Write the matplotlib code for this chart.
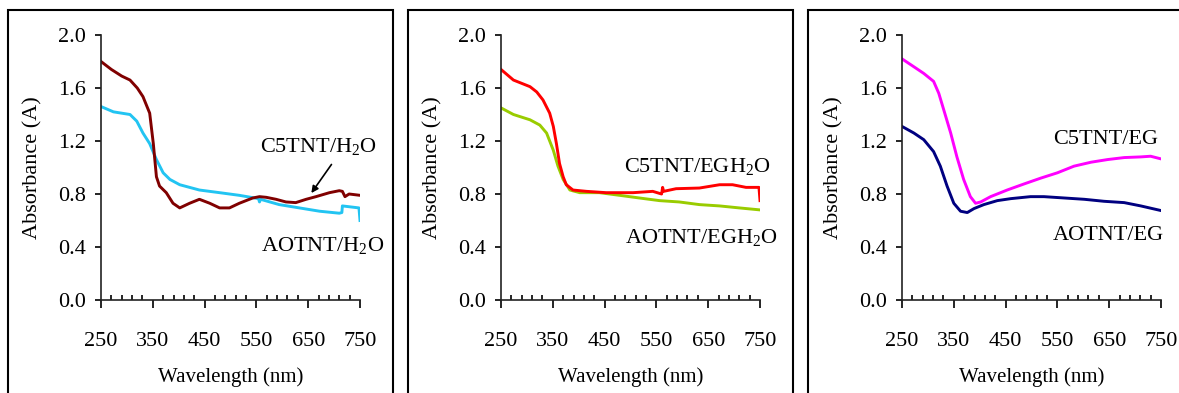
import numpy as np
import matplotlib
matplotlib.use("Agg")
import matplotlib.pyplot as plt
from matplotlib.patches import Rectangle

plt.rcParams['font.family'] = ['Liberation Serif', 'DejaVu Serif']
plt.rcParams['mathtext.fontset'] = 'custom'
plt.rcParams['mathtext.rm'] = 'Liberation Serif'
plt.rcParams['mathtext.it'] = 'Liberation Serif:italic'

# Panel 1: H2O
wl_c5_h2o = [250, 270, 290, 306, 320, 331, 344, 351, 357, 363, 376, 389, 402, 421, 440, 460, 479, 498,
             517, 543, 556, 569, 588, 607, 626, 646, 665, 691, 710, 716, 721, 729, 750]
ab_c5_h2o = [1.80, 1.74, 1.69, 1.66, 1.60, 1.535, 1.41, 1.18, 0.93, 0.86, 0.81, 0.73, 0.695, 0.73, 0.76, 0.73, 0.695, 0.695,
             0.73, 0.77, 0.78, 0.775, 0.76, 0.74, 0.735, 0.76, 0.78, 0.81, 0.825, 0.82, 0.78, 0.80, 0.79]
wl_ao_h2o = [250, 274, 306, 319, 331, 344, 357, 370, 383, 402, 440, 479, 517, 554, 556, 558, 594, 633, 672, 710, 715, 716,
             748, 750]
ab_ao_h2o = [1.46, 1.42, 1.40, 1.35, 1.26, 1.18, 1.06, 0.96, 0.91, 0.87, 0.83, 0.81, 0.79, 0.765, 0.74, 0.76, 0.72, 0.695,
             0.67, 0.655, 0.66, 0.71, 0.695, 0.60]

# Panel 2: EG/H2O
wl_c5_egh = [250, 274, 306, 319, 331, 344, 351, 357, 363, 370, 376, 389, 415, 453, 505, 543, 560, 562, 564, 588, 633, 672,
             697, 723, 748, 750]
ab_c5_egh = [1.74, 1.66, 1.61, 1.57, 1.51, 1.41, 1.31, 1.18, 1.03, 0.93, 0.87, 0.83, 0.82, 0.81, 0.81, 0.82, 0.80, 0.85,
             0.82, 0.84, 0.845, 0.87, 0.87, 0.85, 0.85, 0.75]
wl_ao_egh = [250, 274, 306, 325, 338, 351, 360, 370, 383, 402, 440, 479, 517, 556, 594, 633, 672, 710, 750]
ab_ao_egh = [1.45, 1.40, 1.36, 1.32, 1.26, 1.13, 1.01, 0.91, 0.83, 0.81, 0.81, 0.79, 0.77, 0.75, 0.74, 0.72, 0.71, 0.695,
             0.68]

# Panel 3: EG
wl_c5_eg = [250, 273, 292, 311, 321, 331, 344, 356, 369, 382, 392, 402, 421, 453, 485, 518, 550, 582, 615, 647, 679, 711,
            730, 750]
ab_c5_eg = [1.82, 1.76, 1.71, 1.65, 1.56, 1.43, 1.26, 1.08, 0.91, 0.78, 0.73, 0.74, 0.78, 0.83, 0.875, 0.92, 0.96, 1.01,
            1.04, 1.06, 1.075, 1.08, 1.085, 1.065]
wl_ao_eg = [250, 273, 292, 311, 324, 337, 350, 363, 376, 389, 408, 434, 460, 498, 524, 563, 602, 640, 679, 711, 750]
ab_ao_eg = [1.31, 1.26, 1.21, 1.12, 1.01, 0.86, 0.73, 0.67, 0.66, 0.69, 0.72, 0.75, 0.765, 0.78, 0.78, 0.77, 0.76, 0.745,
            0.735, 0.71, 0.675]

x_major = [250, 350, 450, 550, 650, 750]
y_major = [0.0, 0.4, 0.8, 1.2, 1.6, 2.0]

panels = [
    (wl_c5_h2o, ab_c5_h2o, '#800000', wl_ao_h2o, ab_ao_h2o, '#22C4F2',
     r'C5TNT/H$_\mathrm{2}$O', (669, 1.155), r'AOTNT/H$_\mathrm{2}$O', (677, 0.415)),
    (wl_c5_egh, ab_c5_egh, '#FF0000', wl_ao_egh, ab_ao_egh, '#99CC00',
     r'C5TNT/EGH$_\mathrm{2}$O', (629, 1.004), r'AOTNT/EGH$_\mathrm{2}$O', (636, 0.475)),
    (wl_c5_eg, ab_c5_eg, '#FF00FF', wl_ao_eg, ab_ao_eg, '#000080',
     'C5TNT/EG', (643, 1.21), 'AOTNT/EG', (649, 0.49)),
]

W, H = 1179, 393
fig = plt.figure(figsize=(W / 100, H / 100), dpi=100)

ax_lefts = [101, 501, 902]
box_x = [(8, 393), (408, 793), (808, 1200)]

for i, p in enumerate(panels):
    wl1, ab1, c1, wl2, ab2, c2, t1, p1, t2, p2 = p
    ax = fig.add_axes([ax_lefts[i] / W, 93 / H, 259 / W, 265 / H])
    ax.plot(wl2, ab2, color=c2, lw=2.1)
    ax.plot(wl1, ab1, color=c1, lw=2.1)
    ax.set_xlim(250, 750)
    ax.set_ylim(0, 2.0)
    ax.set_xticks(x_major)
    ax.set_xticks(np.arange(250, 751, 20), minor=True)
    ax.set_yticks(y_major)
    ax.set_yticklabels(['%.1f' % v for v in y_major])
    ax.spines['top'].set_visible(False)
    ax.spines['right'].set_visible(False)
    for s in ['left', 'bottom']:
        ax.spines[s].set_linewidth(1.2)
        ax.spines[s].set_color('#222222')
    ax.tick_params(axis='x', which='major', direction='out', length=6, width=1.2, pad=17, labelsize=16)
    ax.tick_params(axis='x', which='minor', direction='in', length=3.5, width=1.2)
    ax.tick_params(axis='y', which='major', direction='out', length=4, width=1.2, pad=7, labelsize=16)
    ax.set_xlabel('Wavelength (nm)', fontsize=15, labelpad=12)
    ax.set_ylabel('Absorbance (A)', fontsize=16, labelpad=11)
    ax.text(p1[0], p1[1], t1, fontsize=16, ha='center', va='center')
    ax.text(p2[0], p2[1], t2, fontsize=16, ha='center', va='center')
    if i == 0:
        ax.annotate('', xy=(653, 0.79), xytext=(698, 1.04),
                    arrowprops=dict(arrowstyle='-|>', color='black', lw=1.2, mutation_scale=10))

    x0, x1 = box_x[i]
    fig.add_artist(Rectangle((x0 / W, -0.1), (x1 - x0) / W, (H - 10) / H + 0.1,
                             transform=fig.transFigure, fill=False, lw=1.5,
                             edgecolor='black', clip_on=False))

fig.savefig('out.png', dpi=100)
